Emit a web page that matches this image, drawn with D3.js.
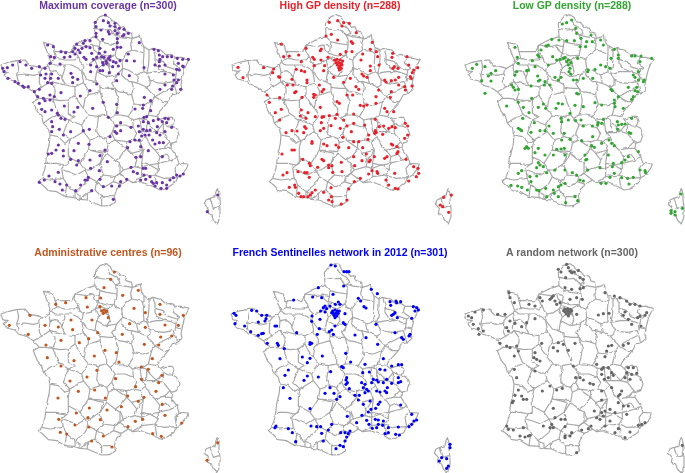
<!DOCTYPE html>
<html>
<head>
<meta charset="utf-8">
<title>GP networks</title>
<script src="https://cdn.jsdelivr.net/npm/d3@7"></script>
<style>
    html,body{margin:0;padding:0;background:#fff;}
    svg{display:block;filter:blur(0.3px);}
    .title{font-family:"Liberation Sans",Arial,sans-serif;font-weight:bold;font-size:10.5px;text-anchor:middle;}
    .dept{fill:none;stroke:#a6a6a6;stroke-width:1.15;stroke-linejoin:round;}
</style>
</head>
<body>
<div id="main"></div>
<script>
// map units: 3 units = 1 pixel of the top left panel
var franceOutline = [[318,44],[330,52],[337,66],[350,68],[362,82],[372,80],[378,95],[395,100],[397,115],[415,110],[421,104],[424,125],[432,140],[447,150],[458,145],[470,148],[482,150],[498,165],[512,163],[525,172],[545,172],[568,178],[560,192],[553,208],[547,232],[543,255],[546,268],[530,282],[517,284],[505,305],[490,322],[475,338],[470,350],[480,358],[498,352],[518,352],[522,365],[517,378],[530,385],[537,405],[530,425],[515,430],[513,445],[530,470],[537,490],[565,492],[560,505],[545,525],[530,533],[522,550],[497,567],[480,570],[462,560],[440,552],[422,545],[398,548],[385,540],[365,553],[350,567],[343,590],[347,605],[328,617],[305,618],[285,610],[262,600],[240,598],[222,592],[195,590],[170,575],[145,572],[128,555],[115,545],[125,535],[135,505],[140,465],[148,430],[150,405],[145,385],[130,370],[125,350],[112,335],[100,305],[118,295],[100,275],[80,262],[55,255],[45,243],[20,237],[12,225],[25,215],[8,212],[3,195],[25,187],[50,182],[75,180],[90,197],[110,200],[128,205],[145,195],[152,185],[143,160],[130,127],[150,132],[160,135],[165,155],[190,155],[215,155],[225,135],[250,122],[285,110],[283,70],[300,50],[318,44]];
var corsicaOutline = [[652,565],[657,580],[657,600],[660,625],[660,650],[652,672],[640,660],[635,645],[622,640],[625,625],[613,612],[618,600],[630,595],[645,590],[648,575],[652,565]];
var deptLines = [
    [[52,184],[56,205],[50,225],[55,245]],
    [[50,225],[75,222],[100,226],[118,222]],
    [[128,205],[120,215],[118,235],[118,250],[125,262],[100,275]],
    [[145,195],[150,215],[148,240],[150,245],[125,262]],
    [[150,245],[165,265],[165,280],[158,298]],
    [[118,295],[135,295],[158,298]],
    [[150,245],[175,250],[195,255]],
    [[195,255],[210,258],[225,260],[225,285]],
    [[225,285],[205,300],[180,302],[158,298]],
    [[195,255],[185,235],[195,205],[190,195]],
    [[152,185],[165,195],[190,195]],
    [[150,215],[168,212],[180,222],[187,232]],
    [[165,155],[170,175],[155,183]],
    [[170,175],[195,180],[225,180],[235,170]],
    [[235,170],[222,150],[225,135]],
    [[235,170],[240,185],[250,195]],
    [[190,195],[215,195],[235,205],[245,215]],
    [[245,215],[250,195]],
    [[225,135],[260,140],[278,135],[298,140]],
    [[285,110],[300,125],[298,140],[295,160]],
    [[278,135],[282,150],[295,160],[290,172],[285,180]],
    [[250,195],[270,190],[285,180]],
    [[322,60],[330,75],[350,85],[360,100],[345,105]],
    [[285,85],[310,90],[330,88],[345,105]],
    [[345,105],[352,120],[350,145],[345,165]],
    [[300,125],[320,130],[352,135]],
    [[345,105],[365,110],[397,115]],
    [[295,160],[320,168],[345,165]],
    [[397,115],[392,132],[395,150]],
    [[395,150],[380,160],[365,180]],
    [[345,165],[350,175],[365,180]],
    [[395,150],[420,155],[432,160]],
    [[432,140],[432,160]],
    [[447,150],[447,175],[445,200],[440,220]],
    [[432,160],[430,185],[432,215],[440,220]],
    [[458,145],[465,165],[465,190],[475,205],[500,215]],
    [[525,172],[520,190],[540,205]],
    [[465,178],[490,185],[500,200],[530,210],[540,205]],
    [[440,220],[470,215],[500,215],[530,225]],
    [[530,210],[525,245]],
    [[525,235],[545,240]],
    [[450,240],[470,248],[490,250],[520,245]],
    [[440,220],[450,240],[450,255],[440,262],[415,250]],
    [[520,245],[528,272],[530,282]],
    [[520,260],[490,275],[465,290],[450,275],[440,262]],
    [[465,290],[490,305],[505,305]],
    [[415,250],[410,225],[432,215]],
    [[365,180],[368,205],[350,225]],
    [[368,205],[385,210],[410,225]],
    [[368,205],[365,225],[385,245],[395,245],[415,250]],
    [[350,225],[345,240],[335,250],[345,265],[355,275]],
    [[355,275],[375,278],[395,285]],
    [[395,245],[400,262],[395,285],[402,310],[400,325]],
    [[320,230],[350,225]],
    [[290,215],[320,230]],
    [[285,180],[295,205],[290,215],[285,245],[265,240],[245,215]],
    [[285,245],[300,255],[300,275]],
    [[300,262],[325,265],[345,265]],
    [[245,215],[250,240],[250,248],[225,260]],
    [[250,248],[265,270],[265,285]],
    [[265,285],[300,275]],
    [[225,285],[235,305],[250,325]],
    [[250,325],[255,295],[265,285]],
    [[345,165],[322,180],[330,215],[320,230]],
    [[285,180],[300,175],[312,190],[295,205]],
    [[295,170],[322,180]],
    [[312,190],[328,200]],
    [[312,180],[322,186],[312,190]],
    [[345,265],[355,300],[350,330],[345,345]],
    [[300,275],[310,310],[320,330],[320,345]],
    [[345,345],[330,355],[320,345]],
    [[250,325],[265,345],[295,350],[320,345]],
    [[345,345],[365,345],[385,350],[400,325]],
    [[402,312],[430,315],[455,305],[465,290]],
    [[455,305],[450,325],[445,345],[430,355],[420,355],[398,360],[385,350]],
    [[445,345],[470,350]],
    [[398,360],[400,385],[375,375],[345,375],[330,355]],
    [[345,375],[335,400],[320,415],[300,410],[290,395],[295,350]],
    [[265,345],[245,375],[250,395],[270,420],[300,410]],
    [[270,420],[265,450],[290,452],[320,455],[325,430],[320,415]],
    [[205,300],[205,340],[225,350],[205,360],[245,375]],
    [[158,298],[175,340],[205,360]],
    [[130,370],[150,355],[175,345]],
    [[205,360],[190,400],[210,420]],
    [[210,420],[225,410],[250,395]],
    [[150,405],[175,410],[195,430],[210,420]],
    [[210,420],[205,445],[205,470],[240,490],[265,450]],
    [[205,470],[205,490],[195,495]],
    [[135,490],[170,490],[195,495],[205,490]],
    [[125,535],[150,540],[190,535]],
    [[190,535],[185,505],[195,495]],
    [[240,490],[255,510],[230,525],[190,510]],
    [[265,450],[310,460],[300,490],[270,510],[255,510]],
    [[190,535],[200,555],[195,590]],
    [[200,555],[225,575],[255,550],[265,530],[255,510]],
    [[225,575],[225,592]],
    [[265,530],[290,545],[285,570],[262,580],[240,598]],
    [[225,575],[240,585],[240,598]],
    [[300,495],[310,525],[290,545]],
    [[262,600],[262,580]],
    [[285,570],[305,590],[305,618]],
    [[290,545],[315,560],[340,545],[345,530],[310,525]],
    [[300,490],[320,460],[345,480],[360,490],[360,520],[345,530]],
    [[325,430],[345,420],[380,445],[360,470],[345,480]],
    [[335,400],[345,420],[380,425],[400,420],[410,400],[400,385]],
    [[380,445],[380,425]],
    [[400,420],[420,425],[430,450],[395,460],[380,445]],
    [[395,460],[410,480],[405,500],[370,510],[360,490]],
    [[420,355],[425,395],[438,410],[420,425]],
    [[420,355],[440,360],[440,395],[425,395]],
    [[440,365],[470,395],[490,370],[480,358]],
    [[440,395],[470,395],[490,400],[510,425],[490,445],[465,450],[450,435],[438,410]],
    [[490,370],[505,378],[517,378]],
    [[490,370],[490,400]],
    [[510,425],[515,430]],
    [[430,450],[425,490],[450,495],[475,490],[480,470],[465,450]],
    [[430,450],[410,480]],
    [[405,500],[425,505],[425,490]],
    [[360,520],[370,510]],
    [[425,505],[425,530],[395,548]],
    [[345,530],[360,520],[385,540]],
    [[340,545],[365,553]],
    [[305,590],[343,590]],
    [[425,505],[450,495],[475,510],[465,525],[425,530]],
    [[465,525],[470,560]],
    [[465,525],[490,535],[530,533]],
    [[475,490],[515,480],[530,470]],
    [[475,510],[475,490]],
    [[537,490],[525,505],[530,533]],
    [[490,445],[513,445]],
    [[480,470],[500,462],[515,480]]
];
var corsicaLines = [[[630,595],[640,625],[657,620]]];

var networkTitles = ["Maximum coverage (n=300)","High GP density (n=288)","Low GP density (n=288)","Administrative centres (n=96)","French Sentinelles network in 2012 (n=301)","A random network (n=300)"];
var networkColors = ["#6a35a5","#e8212a","#33a532","#c0571f","#0000f5","#666666"];

var maxCoverage = [[316,45],[286,67],[310,62],[325,68],[345,70],[288,80],[330,78],[345,80],[358,85],[372,88],[345,92],[303,90],[325,95],[288,100],[352,100],[372,104],[385,100],[328,102],[368,108],[308,118],[352,116],[288,110],[352,128],[418,128],[143,135],[160,140],[270,122],[255,122],[250,130],[230,132],[225,145],[235,150],[246,145],[258,140],[270,143],[352,142],[362,142],[340,148],[300,145],[275,160],[315,156],[298,160],[330,170],[385,162],[218,155],[197,158],[183,155],[152,170],[163,172],[193,172],[210,170],[240,158],[225,162],[252,172],[258,178],[280,178],[290,172],[305,170],[312,172],[325,175],[318,183],[308,188],[320,190],[330,180],[340,185],[348,188],[355,198],[338,200],[360,182],[380,182],[403,183],[310,195],[290,200],[272,195],[300,212],[272,215],[308,212],[328,218],[355,222],[388,227],[432,203],[462,148],[475,152],[478,165],[488,170],[502,170],[515,170],[532,175],[548,178],[565,178],[480,178],[478,185],[465,195],[478,198],[495,195],[548,198],[535,190],[530,208],[538,210],[550,200],[495,222],[520,225],[522,240],[535,240],[530,248],[518,258],[515,268],[542,268],[495,255],[480,268],[150,190],[180,192],[8,205],[22,203],[38,195],[60,185],[78,195],[95,205],[118,200],[135,205],[12,215],[24,235],[45,245],[55,250],[68,258],[72,262],[85,260],[103,275],[122,225],[138,222],[155,222],[135,235],[152,235],[175,235],[143,248],[155,250],[213,220],[218,232],[233,238],[218,248],[118,268],[113,290],[130,295],[150,285],[163,290],[150,300],[135,302],[118,310],[125,328],[135,335],[155,330],[172,340],[183,355],[195,358],[155,365],[158,380],[155,395],[178,388],[190,405],[212,395],[250,392],[268,388],[235,430],[267,433],[175,435],[168,450],[190,452],[190,468],[145,462],[155,460],[222,452],[212,478],[235,482],[230,495],[270,480],[322,485],[300,467],[315,450],[147,528],[175,517],[133,540],[118,547],[165,545],[180,552],[200,555],[187,570],[227,572],[242,555],[255,540],[262,540],[265,532],[298,512],[272,505],[300,538],[275,572],[310,560],[335,558],[358,558],[362,545],[380,538],[340,598],[433,292],[452,302],[430,315],[428,325],[452,332],[405,327],[350,313],[310,307],[278,325],[241,288],[183,278],[270,272],[290,252],[350,242],[325,352],[352,338],[233,322],[222,336],[193,318],[175,345],[393,382],[415,378],[432,352],[440,350],[430,365],[445,368],[460,362],[475,358],[487,365],[495,355],[505,357],[515,382],[500,368],[495,395],[472,380],[470,398],[450,390],[440,392],[430,388],[418,395],[425,408],[435,405],[447,405],[458,420],[465,432],[478,428],[490,428],[480,405],[418,420],[405,420],[390,425],[383,443],[422,440],[422,470],[408,472],[445,452],[487,470],[362,368],[350,378],[362,392],[350,400],[330,410],[345,395],[393,502],[400,515],[412,520],[430,505],[437,505],[432,525],[422,540],[437,538],[450,530],[455,545],[460,550],[470,548],[487,548],[500,555],[483,565],[500,565],[510,540],[520,533],[530,525],[540,528],[550,522],[465,558],[653,585],[622,635]];
var highDensity = [[308,180],[315,178],[325,180],[332,183],[312,188],[320,188],[328,190],[316,195],[324,197],[320,203],[328,205],[322,210],[330,195],[292,67],[317,62],[335,68],[352,70],[330,78],[373,98],[298,103],[282,108],[317,120],[358,125],[362,130],[421,127],[148,132],[268,147],[265,152],[222,145],[242,172],[200,165],[172,168],[155,170],[208,185],[247,178],[267,180],[288,172],[325,163],[342,155],[360,155],[392,162],[415,148],[433,155],[387,180],[437,170],[441,195],[415,198],[482,160],[480,172],[525,170],[487,200],[483,205],[498,205],[530,195],[557,203],[545,210],[541,218],[535,230],[538,235],[415,212],[405,232],[390,222],[395,228],[278,197],[247,197],[275,212],[305,232],[335,247],[355,235],[372,260],[362,285],[345,285],[380,268],[440,270],[432,290],[432,310],[405,315],[395,318],[385,316],[458,240],[462,246],[478,242],[490,240],[500,232],[518,260],[520,270],[540,258],[500,255],[478,275],[475,292],[485,335],[458,325],[465,335],[18,202],[33,233],[95,203],[125,207],[122,218],[140,230],[143,232],[180,238],[183,255],[166,255],[192,275],[188,278],[210,292],[143,293],[105,285],[112,307],[130,338],[143,360],[148,328],[208,212],[218,215],[193,208],[225,240],[225,248],[262,255],[275,268],[270,275],[250,285],[245,292],[245,283],[315,305],[322,310],[265,322],[208,330],[228,338],[205,348],[222,355],[250,350],[270,352],[275,350],[292,347],[315,343],[268,368],[275,385],[297,377],[265,392],[218,380],[180,392],[195,393],[162,398],[215,398],[222,385],[310,355],[325,385],[345,378],[365,370],[398,375],[365,342],[335,360],[332,412],[358,395],[312,435],[320,442],[350,443],[365,425],[380,425],[392,443],[410,405],[408,418],[430,392],[432,398],[428,400],[430,358],[442,380],[455,378],[470,385],[480,380],[490,383],[520,370],[527,378],[452,403],[478,432],[482,435],[495,440],[518,415],[527,405],[495,460],[465,470],[458,475],[427,470],[403,462],[390,482],[415,480],[412,485],[498,455],[522,478],[545,500],[558,505],[560,520],[553,530],[530,543],[488,520],[462,540],[470,555],[490,565],[498,567],[435,515],[420,512],[410,522],[437,520],[385,535],[367,545],[368,497],[365,470],[328,487],[302,517],[330,515],[275,432],[285,437],[240,425],[240,430],[180,450],[187,450],[150,462],[212,478],[232,490],[235,497],[270,478],[275,482],[257,502],[290,495],[290,503],[300,497],[225,518],[232,532],[218,518],[198,515],[165,518],[153,525],[172,562],[188,555],[190,562],[200,580],[207,590],[215,590],[228,590],[235,585],[240,578],[250,570],[275,577],[297,563],[298,590],[290,600],[300,605],[328,612],[345,600],[350,567],[658,585],[635,592],[625,615],[632,620],[650,637]];
var lowDensity = [[322,72],[335,68],[350,60],[362,85],[365,100],[408,105],[290,118],[280,135],[273,138],[312,120],[335,122],[358,122],[375,140],[395,125],[412,125],[437,120],[445,135],[392,140],[378,115],[258,150],[248,165],[252,170],[180,142],[187,172],[190,190],[232,182],[240,200],[220,210],[215,212],[185,215],[180,225],[293,170],[280,195],[305,180],[315,178],[325,175],[330,172],[340,180],[348,188],[335,185],[340,195],[345,205],[342,215],[347,222],[368,175],[400,210],[398,215],[420,208],[437,195],[452,200],[465,205],[468,175],[478,148],[490,165],[490,175],[530,168],[540,168],[558,168],[590,175],[555,185],[550,215],[535,225],[540,232],[550,240],[565,245],[568,240],[300,232],[318,232],[310,240],[285,255],[270,245],[268,255],[255,240],[250,243],[248,228],[228,258],[355,240],[365,240],[385,235],[413,235],[370,282],[365,280],[385,320],[360,316],[420,308],[440,315],[468,268],[472,272],[490,290],[520,262],[545,262],[540,272],[548,275],[535,290],[530,298],[478,300],[478,310],[480,320],[505,325],[52,205],[65,193],[90,200],[122,212],[108,220],[100,228],[108,243],[80,242],[90,280],[170,255],[175,262],[180,270],[190,268],[155,318],[190,307],[205,322],[222,338],[203,355],[230,295],[265,312],[250,322],[272,325],[310,310],[322,312],[303,325],[318,355],[320,365],[345,340],[340,360],[362,362],[378,360],[385,378],[412,378],[430,368],[428,375],[445,358],[440,370],[487,365],[490,375],[500,373],[510,372],[530,355],[522,398],[527,400],[488,388],[238,368],[228,397],[195,388],[190,385],[200,392],[255,392],[270,392],[282,378],[295,400],[328,400],[320,420],[345,418],[380,422],[413,410],[462,420],[470,430],[478,437],[440,430],[410,437],[418,442],[215,440],[210,445],[220,445],[250,445],[240,458],[270,465],[295,465],[305,448],[318,447],[328,445],[330,465],[390,465],[392,480],[395,478],[460,465],[550,455],[520,470],[510,480],[500,488],[475,490],[472,500],[435,503],[300,510],[275,518],[250,488],[255,495],[245,503],[265,500],[330,510],[352,518],[365,525],[375,540],[385,543],[398,510],[190,520],[200,512],[225,530],[245,528],[228,545],[217,570],[168,556],[188,558],[200,562],[245,570],[252,572],[272,565],[295,570],[298,580],[275,590],[310,560],[318,555],[330,550],[310,590],[332,608],[360,590],[368,602],[438,550],[453,550],[465,532],[478,520],[500,533],[518,535],[522,552],[535,532],[555,510],[570,512],[572,518],[678,582],[682,625],[648,632],[660,635],[648,640],[660,645]];
var adminCentres = [[343,108],[332,130],[312,155],[415,163],[368,178],[258,185],[302,186],[167,205],[197,200],[262,213],[300,212],[480,205],[402,217],[436,230],[480,235],[550,238],[305,225],[312,222],[318,228],[310,232],[320,225],[325,245],[90,238],[135,268],[28,268],[85,295],[175,273],[213,252],[218,281],[276,252],[293,290],[389,263],[436,274],[495,267],[535,268],[515,300],[482,303],[367,295],[476,327],[433,325],[266,308],[238,320],[183,313],[138,327],[142,365],[222,374],[183,390],[283,360],[315,343],[349,350],[357,378],[457,368],[424,393],[445,400],[486,418],[476,440],[468,466],[425,430],[291,403],[261,423],[210,435],[347,428],[407,452],[235,466],[284,462],[174,486],[316,486],[383,480],[432,484],[415,496],[268,516],[229,531],[487,505],[321,522],[364,512],[495,538],[176,550],[264,545],[301,551],[225,567],[267,573],[181,589],[200,594],[310,600],[275,615],[336,633],[384,572],[406,556],[428,550],[458,593],[484,601],[545,561],[653,620],[621,673]];
var sentinelles = [[308,225],[315,222],[322,225],[310,232],[318,232],[325,232],[312,238],[320,240],[315,245],[305,230],[328,225],[303,87],[316,90],[342,107],[350,107],[357,107],[341,150],[265,155],[424,160],[442,173],[191,192],[248,183],[275,185],[309,175],[325,198],[316,205],[330,205],[300,210],[285,210],[280,215],[290,218],[272,225],[285,228],[385,187],[392,195],[402,212],[408,216],[480,197],[498,195],[500,200],[482,208],[512,197],[550,212],[560,215],[565,222],[555,225],[495,230],[490,235],[485,238],[502,245],[545,247],[12,232],[18,238],[15,263],[44,270],[65,223],[80,225],[95,238],[110,238],[108,248],[105,255],[85,258],[62,287],[85,298],[95,293],[100,292],[135,270],[140,270],[246,240],[245,256],[270,250],[340,260],[345,265],[345,233],[315,270],[438,265],[268,278],[298,287],[305,282],[310,295],[200,290],[262,295],[375,297],[408,305],[443,325],[112,322],[142,322],[145,328],[240,320],[245,322],[240,325],[163,338],[277,360],[347,352],[217,363],[240,367],[232,380],[150,368],[495,290],[515,305],[520,310],[540,295],[537,300],[460,368],[335,392],[340,395],[362,378],[405,385],[485,390],[505,386],[515,386],[302,407],[175,402],[165,418],[232,420],[222,433],[265,423],[398,410],[418,408],[450,400],[465,402],[350,425],[348,432],[352,440],[348,445],[395,440],[430,430],[440,432],[425,440],[405,445],[400,455],[410,460],[405,470],[415,465],[445,438],[470,430],[485,442],[505,425],[505,440],[512,437],[460,440],[472,455],[465,465],[470,470],[440,465],[450,468],[375,478],[358,458],[388,478],[385,492],[400,505],[420,495],[415,528],[437,517],[445,505],[450,498],[160,455],[180,487],[312,472],[300,455],[285,472],[330,482],[320,490],[240,518],[512,507],[423,520],[352,541],[396,538],[410,553],[380,560],[436,550],[445,552],[460,555],[417,565],[427,577],[440,575],[445,565],[458,568],[475,575],[505,573],[475,590],[465,593],[497,595],[508,597],[537,572],[545,565],[552,555],[560,552],[545,535],[135,575],[138,570],[175,578],[187,590],[197,617],[243,570],[260,572],[272,572],[295,582],[305,565],[275,592],[280,615],[332,590],[345,590],[360,585],[355,593],[350,603],[345,615],[330,628],[340,632],[318,638],[660,625],[635,665],[628,675],[655,690],[650,697],[660,635],[650,668]];
var randomNetwork = [[330,220],[338,218],[346,220],[330,228],[338,226],[346,228],[334,234],[342,234],[326,224],[350,224],[335,85],[340,95],[345,105],[350,110],[370,103],[358,108],[375,125],[385,130],[332,125],[310,100],[318,108],[330,155],[350,160],[385,155],[375,158],[345,190],[365,185],[382,190],[162,170],[165,185],[178,200],[222,205],[240,210],[255,185],[262,195],[290,185],[285,190],[295,180],[300,195],[305,205],[315,200],[340,240],[365,235],[430,237],[445,233],[462,232],[450,170],[478,180],[495,185],[515,195],[525,205],[540,205],[555,210],[510,228],[505,238],[520,250],[530,265],[548,245],[555,240],[570,238],[575,230],[558,270],[40,240],[50,245],[60,228],[85,222],[128,235],[150,235],[165,255],[155,275],[180,262],[200,272],[215,260],[240,248],[55,265],[70,278],[72,295],[85,285],[160,285],[135,322],[155,330],[165,335],[185,330],[190,345],[178,360],[260,322],[295,335],[310,320],[325,325],[308,345],[340,343],[360,322],[240,350],[245,370],[255,375],[237,365],[460,330],[470,328],[505,328],[520,322],[455,345],[450,362],[425,385],[445,395],[440,400],[460,395],[470,410],[475,418],[460,425],[448,430],[440,415],[520,395],[535,395],[515,410],[530,415],[545,412],[510,425],[525,430],[178,400],[240,405],[185,425],[355,390],[362,425],[375,425],[385,432],[405,442],[415,445],[440,465],[470,455],[500,465],[495,475],[490,480],[285,450],[262,465],[305,462],[322,457],[190,462],[180,478],[200,480],[205,490],[215,490],[172,500],[175,495],[295,517],[440,492],[450,525],[440,530],[445,540],[425,545],[418,525],[435,550],[465,520],[480,530],[490,500],[505,510],[515,535],[520,510],[550,568],[560,565],[570,560],[510,605],[525,588],[490,578],[480,590],[465,555],[450,570],[408,570],[400,578],[380,582],[345,600],[330,605],[300,545],[318,550],[330,550],[290,565],[295,575],[285,575],[265,570],[220,600],[225,598],[210,603],[195,600],[175,582],[155,570],[160,580],[205,575],[330,572],[350,590],[365,650],[330,600],[682,628]];

var networkPoints = [maxCoverage,highDensity,lowDensity,adminCentres,sentinelles,randomNetwork];
// the dots were read in each panel's own crop, so these are the shifts back to map units
var readShift = [[0,0],[-3,0],[27,0],[0,39],[0,39],[27,39]];
var panelLeft = [0,231,464,0,230,464];
var panelTop = [0,0,0,249,249,249];
var titleX = [108,340,572,108,340,572];
var titleY = [9,9,9,256,256,256];

var svg = d3.select("#main").append("svg").attr("width",685).attr("height",473);

// roughens the straight traced borders
var wiggle = svg.append("defs").append("filter")
    .attr("id","wiggle")
    .attr("filterUnits","userSpaceOnUse")
    .attr("x",0).attr("y",0).attr("width",685).attr("height",473);
wiggle.append("feTurbulence")
    .attr("type","fractalNoise")
    .attr("baseFrequency",0.16)
    .attr("numOctaves",2)
    .attr("seed",4)
    .attr("result","noise");
wiggle.append("feDisplacementMap")
    .attr("in","SourceGraphic")
    .attr("in2","noise")
    .attr("scale",3)
    .attr("xChannelSelector","R")
    .attr("yChannelSelector","G");
wiggle.append("feGaussianBlur")
    .attr("stdDeviation",0.35);

networkTitles.forEach(function(title,i){
    var x = d3.scaleLinear().domain([0,690]).range([panelLeft[i],panelLeft[i]+230]);
    var y = d3.scaleLinear().domain([0,708]).range([panelTop[i],panelTop[i]+236]);
    var line = d3.line().x(function(d){return x(d[0]);}).y(function(d){return y(d[1]);});
    var panel = svg.append("g").attr("class","panel");

    panel.append("g")
        .attr("filter","url(#wiggle)")
        .selectAll("path")
        .data([franceOutline,corsicaOutline].concat(deptLines,corsicaLines))
        .enter()
        .append("path")
        .attr("class","dept")
        .attr("d",line);

    panel.selectAll("circle")
        .data(networkPoints[i])
        .enter()
        .append("circle")
        .attr("cx",function(d){return x(d[0]-readShift[i][0]);})
        .attr("cy",function(d){return y(d[1]-readShift[i][1]);})
        .attr("r",1.6)
        .attr("fill",networkColors[i]);

    panel.append("text")
        .attr("class","title")
        .attr("x",titleX[i])
        .attr("y",titleY[i])
        .attr("fill",networkColors[i])
        .text(title);
});
</script>
</body>
</html>
